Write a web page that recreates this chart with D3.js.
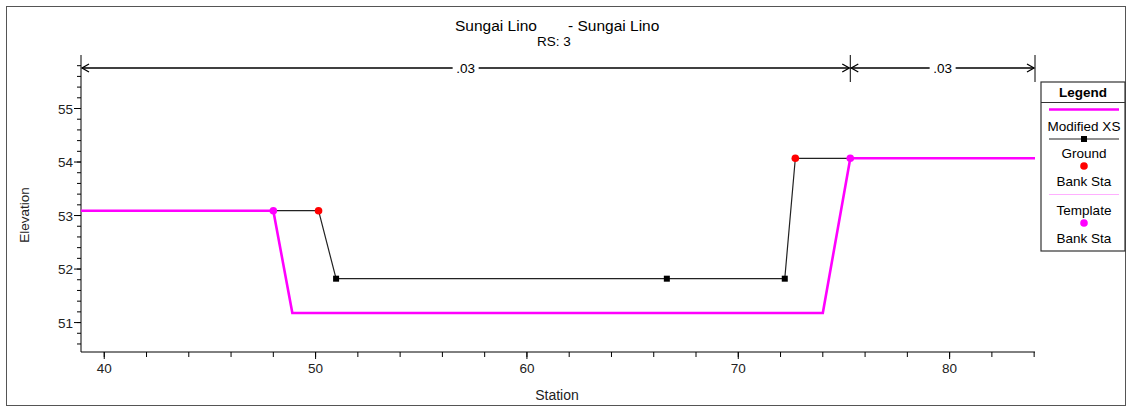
<!DOCTYPE html>
<html>
<head>
<meta charset="utf-8">
<script src="https://cdn.jsdelivr.net/npm/d3@7"></script>
<style>
  body { margin: 0; background: #fff; }
  svg { font-family: "Liberation Sans", Arial, sans-serif; }
</style>
</head>
<body>
<svg width="1126" height="408"></svg>
<script>
var WIDTH = 1126
var HEIGHT = 408

// template (modified XS) line
var templateSta = [38.9, 48.0, 48.9, 74.0, 75.3, 84.04];
var templateElev = [53.09, 53.09, 51.18, 51.18, 54.07, 54.07];
var templateBank = [[48.0, 53.09], [75.3, 54.07]];

// ground line
var groundSta = [38.9, 50.14, 50.97, 66.62, 72.2, 72.7, 84.04];
var groundElev = [53.09, 53.09, 51.82, 51.82, 51.82, 54.07, 54.07];
var groundPoints = [[50.97, 51.82], [66.62, 51.82], [72.2, 51.82]];
var groundBank = [[50.14, 53.09], [72.7, 54.07]];

// manning's n regions
var nBreaks = [38.9, 75.3, 84.04];
var nValues = [".03", ".03"];

var xTicks = [40, 50, 60, 70, 80];
var yTicks = [51, 52, 53, 54, 55];

var svg = d3.select("svg");

var x = d3.scaleLinear().domain([38.9, 84.04]).range([81, 1035]);
var y = d3.scaleLinear().domain([50.45, 56.0]).range([352, 55]);

var FS = "13.5px";

// outer frame
svg.append("rect")
    .attr("x", 6.5).attr("y", 6.5)
    .attr("width", 1119).attr("height", 399)
    .attr("fill", "none").attr("stroke", "#555").attr("stroke-width", 1);

// title
svg.append("text")
    .attr("x", 455).attr("y", 31)
    .style("font-size", "15.5px")
    .text("Sungai Lino");
svg.append("text")
    .attr("x", 568).attr("y", 31)
    .style("font-size", "15.5px")
    .text("- Sungai Lino");
svg.append("text")
    .attr("x", 554).attr("y", 46)
    .attr("text-anchor", "middle")
    .style("font-size", FS)
    .text("RS: 3");

// axes
var xAxis = svg.append("g").attr("transform", "translate(0,352)");
xAxis.append("line").attr("x1", 81).attr("x2", 1035).attr("stroke", "#000");
xAxis.selectAll(".minor").data(d3.range(40, 84.1, 2)).enter().append("line")
    .attr("x1", function (d) { return x(d); }).attr("x2", function (d) { return x(d); })
    .attr("y1", 0).attr("y2", 5).attr("stroke", "#000");
xAxis.selectAll(".major").data(xTicks).enter().append("line")
    .attr("x1", function (d) { return x(d); }).attr("x2", function (d) { return x(d); })
    .attr("y1", 0).attr("y2", 7).attr("stroke", "#000");
xAxis.selectAll("text").data(xTicks).enter().append("text")
    .attr("x", function (d) { return x(d); }).attr("y", 21)
    .attr("text-anchor", "middle")
    .style("font-size", FS).style("fill", "#222")
    .text(function (d) { return d; });

var yAxis = svg.append("g").attr("transform", "translate(81,0)");
yAxis.append("line").attr("y1", 55).attr("y2", 352).attr("stroke", "#000");
yAxis.selectAll(".minor").data(d3.range(50.6, 56.0, 0.2)).enter().append("line")
    .attr("y1", function (d) { return y(d); }).attr("y2", function (d) { return y(d); })
    .attr("x1", 0).attr("x2", -4).attr("stroke", "#000");
yAxis.selectAll(".major").data(yTicks).enter().append("line")
    .attr("y1", function (d) { return y(d); }).attr("y2", function (d) { return y(d); })
    .attr("x1", 0).attr("x2", -7).attr("stroke", "#000");
yAxis.selectAll("text").data(yTicks).enter().append("text")
    .attr("x", -8).attr("y", function (d) { return y(d) + 5; })
    .attr("text-anchor", "end")
    .style("font-size", FS).style("fill", "#222")
    .text(function (d) { return d; });

svg.append("text")
    .attr("transform", "translate(29,215) rotate(-90)")
    .attr("text-anchor", "middle")
    .style("font-size", FS).style("fill", "#222")
    .text("Elevation");
svg.append("text")
    .attr("x", 557).attr("y", 400)
    .attr("text-anchor", "middle")
    .style("font-size", "14px").style("fill", "#222")
    .text("Station");

// n-value dimension lines
var dimY = 68;
var dim = svg.append("g");
nBreaks.forEach(function (b, i) {
    if (i > 0) {
        dim.append("line")
            .attr("x1", x(b)).attr("x2", x(b))
            .attr("y1", dimY - 13).attr("y2", dimY + 14)
            .attr("stroke", "#000");
    }
});
nValues.forEach(function (n, i) {
    var x0 = x(nBreaks[i]), x1 = x(nBreaks[i + 1]);
    var mid = (x0 + x1) / 2;
    dim.append("text")
        .attr("x", mid).attr("y", dimY + 5)
        .attr("text-anchor", "middle")
        .style("font-size", FS)
        .text(n);
    var hw = 13;
    dim.append("line").attr("x1", x0 + 1).attr("x2", mid - hw)
        .attr("y1", dimY).attr("y2", dimY).attr("stroke", "#000").attr("stroke-width", 1.3);
    dim.append("line").attr("x1", mid + hw).attr("x2", x1 - 1)
        .attr("y1", dimY).attr("y2", dimY).attr("stroke", "#000").attr("stroke-width", 1.3);
    dim.append("path")
        .attr("d", "M" + (x0 + 8) + "," + (dimY - 4) + "L" + (x0 + 1) + "," + dimY + "L" + (x0 + 8) + "," + (dimY + 4))
        .attr("fill", "none").attr("stroke", "#000").attr("stroke-width", 1.3);
    dim.append("path")
        .attr("d", "M" + (x1 - 8) + "," + (dimY - 4) + "L" + (x1 - 1) + "," + dimY + "L" + (x1 - 8) + "," + (dimY + 4))
        .attr("fill", "none").attr("stroke", "#000").attr("stroke-width", 1.3);
});

var line = d3.line()
    .x(function (d) { return x(d[0]); })
    .y(function (d) { return y(d[1]); });

// ground
svg.append("path")
    .datum(d3.zip(groundSta, groundElev))
    .attr("d", line)
    .attr("fill", "none").attr("stroke", "#222").attr("stroke-width", 1.2);

// template
svg.append("path")
    .datum(d3.zip(templateSta, templateElev))
    .attr("d", line)
    .attr("fill", "none").attr("stroke", "#ff00ff").attr("stroke-width", 2.6);

svg.selectAll(".gpt").data(groundPoints).enter().append("rect")
    .attr("x", function (d) { return x(d[0]) - 3; })
    .attr("y", function (d) { return y(d[1]) - 3; })
    .attr("width", 6).attr("height", 6).attr("fill", "#000");

svg.selectAll(".gbank").data(groundBank).enter().append("circle")
    .attr("cx", function (d) { return x(d[0]); })
    .attr("cy", function (d) { return y(d[1]); })
    .attr("r", 3.8).attr("fill", "#ff0000");

svg.selectAll(".tbank").data(templateBank).enter().append("circle")
    .attr("cx", function (d) { return x(d[0]); })
    .attr("cy", function (d) { return y(d[1]); })
    .attr("r", 3.8).attr("fill", "#ff00ff");

// legend
var lg = svg.append("g");
lg.append("rect").attr("x", 1041).attr("y", 82).attr("width", 84).attr("height", 169)
    .attr("fill", "#fff").attr("stroke", "#333").attr("stroke-width", 1.2);
lg.append("line").attr("x1", 1041).attr("x2", 1125).attr("y1", 102.5).attr("y2", 102.5)
    .attr("stroke", "#333");
lg.append("text").attr("x", 1083).attr("y", 97).attr("text-anchor", "middle")
    .style("font-size", FS).style("font-weight", "bold").text("Legend");
lg.append("line").attr("x1", 1049).attr("x2", 1119).attr("y1", 109.5).attr("y2", 109.5)
    .attr("stroke", "#ff00ff").attr("stroke-width", 2.6);
lg.append("text").attr("x", 1084).attr("y", 131).attr("text-anchor", "middle")
    .style("font-size", FS).text("Modified XS");
lg.append("line").attr("x1", 1049).attr("x2", 1119).attr("y1", 139).attr("y2", 139)
    .attr("stroke", "#222").attr("stroke-width", 1.2);
lg.append("rect").attr("x", 1081).attr("y", 136).attr("width", 6).attr("height", 6).attr("fill", "#000");
lg.append("text").attr("x", 1084).attr("y", 158).attr("text-anchor", "middle")
    .style("font-size", FS).text("Ground");
lg.append("circle").attr("cx", 1084).attr("cy", 166).attr("r", 3.8).attr("fill", "#ff0000");
lg.append("text").attr("x", 1084).attr("y", 186).attr("text-anchor", "middle")
    .style("font-size", FS).text("Bank Sta");
lg.append("line").attr("x1", 1049).attr("x2", 1119).attr("y1", 194.5).attr("y2", 194.5)
    .attr("stroke", "#ffb0ff").attr("stroke-width", 1.2);
lg.append("text").attr("x", 1084).attr("y", 215).attr("text-anchor", "middle")
    .style("font-size", FS).text("Template");
lg.append("circle").attr("cx", 1084).attr("cy", 223).attr("r", 3.8).attr("fill", "#ff00ff");
lg.append("text").attr("x", 1084).attr("y", 242.5).attr("text-anchor", "middle")
    .style("font-size", FS).text("Bank Sta");
</script>
</body>
</html>
